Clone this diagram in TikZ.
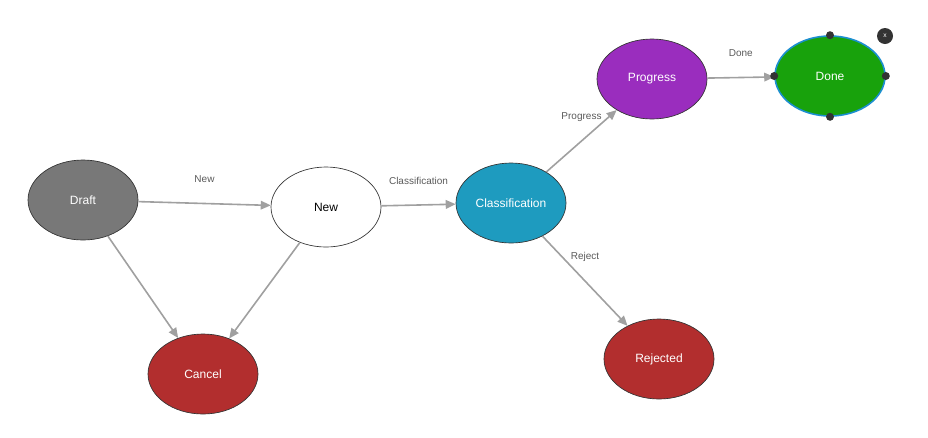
\documentclass[tikz,border=0pt]{standalone}
\usepackage{fontspec}
\setmainfont{Liberation Sans}
\usetikzlibrary{shapes.geometric,arrows.meta}

\definecolor{draftgray}{RGB}{120,120,120}
\definecolor{classblue}{RGB}{30,155,191}
\definecolor{progpurple}{RGB}{154,45,190}
\definecolor{donegreen}{RGB}{24,162,12}
\definecolor{doneborder}{RGB}{28,143,208}
\definecolor{stopred}{RGB}{178,46,46}
\definecolor{edgegray}{RGB}{160,160,160}
\definecolor{labelgray}{RGB}{90,90,90}
\definecolor{handlegray}{RGB}{51,51,51}

\tikzset{
  state/.style={ellipse, draw={rgb, 255:red, 51; green, 51; blue, 51}, line width=0.5pt,
    minimum width=82.5pt, minimum height=60pt, inner sep=0pt, font=\fontsize{9}{11}\selectfont, text=white},
  edge/.style={draw=edgegray, line width=1.2pt, -{Triangle[length=7.5pt,width=6.5pt]}},
  elabel/.style={midway, yshift=18pt, font=\fontsize{7.5}{9}\selectfont, text=labelgray},
  handle/.style={circle, fill=handlegray, minimum size=6pt, inner sep=0pt}
}

\begin{document}
\begin{tikzpicture}[x=0.75pt,y=0.75pt,yscale=-1,xscale=1]
\useasboundingbox (0,0) rectangle (928,437);

%Shape: Ellipse [Draft]
\draw (83,200) node [state, fill=draftgray] (draft) {Draft};
%Shape: Ellipse [New]
\draw (326,207) node [state, fill=white, text=black] (new) {New};
%Shape: Ellipse [Classification]
\draw (511,203) node [state, fill=classblue] (class) {Classification};
%Shape: Ellipse [Progress]
\draw (652,79) node [state, fill=progpurple] (prog) {Progress};
%Shape: Ellipse [Done]
\draw (830,76) node [state, fill=donegreen, draw=doneborder, line width=1.2pt] (done) {Done};
%Shape: Ellipse [Cancel]
\draw (203,374) node [state, fill=stopred] (cancel) {Cancel};
%Shape: Ellipse [Rejected]
\draw (659,359) node [state, fill=stopred] (rejected) {Rejected};

%Straight Lines
\draw [edge] (draft) -- node [elabel] {New} (new);
\draw [edge] (new) -- node [elabel] {Classification} (class);
\draw [edge] (class) -- node [elabel] {Progress} (prog);
\draw [edge] (class) -- node [elabel] {Reject} (rejected);
\draw [edge] (prog) -- node [elabel] {Done} (done);
\draw [edge] (draft) -- (cancel);
\draw [edge] (new) -- (cancel);

%Handles of the selected state
\node [handle] (doneN) at (done.north) {};
\node [handle] (doneS) at (done.south) {};
\node [handle] (doneE) at (done.east) {};
\node [handle] (doneW) at (done.west) {};

% Text Node
\draw (885,36) node [circle, fill=handlegray, minimum size=12pt, inner sep=0pt, text=white, font=\fontsize{5}{6}\selectfont] (close) {x};

\end{tikzpicture}
\end{document}
